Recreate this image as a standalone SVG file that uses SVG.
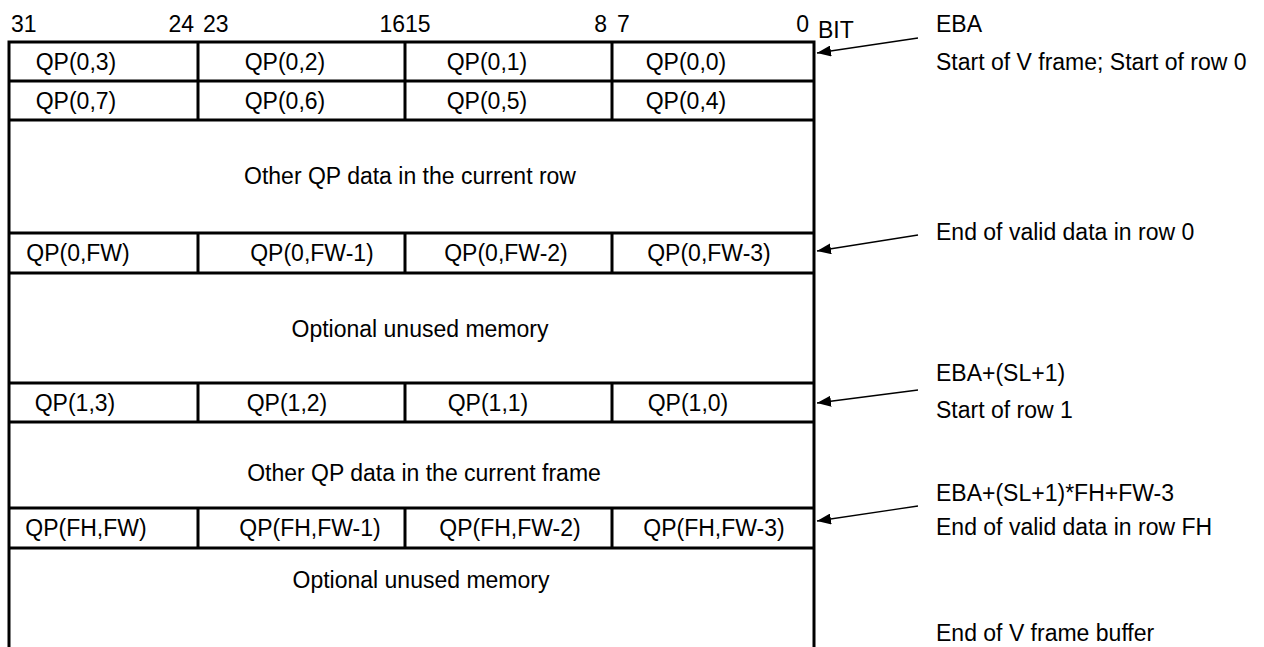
<svg xmlns="http://www.w3.org/2000/svg" width="1264" height="647" viewBox="0 0 1264 647">
<defs>
<marker id="ah" viewBox="0 0 14 11" refX="14" refY="5.5" markerWidth="14" markerHeight="11" markerUnits="userSpaceOnUse" orient="auto">
<path d="M0,0 L14,5.5 L0,11 Z" fill="#000"/>
</marker>
<style>
text{font-family:"Liberation Sans",Arial,Helvetica,sans-serif;font-size:23px;fill:#000}
.c{text-anchor:middle}
.e{text-anchor:end}
.b{fill:none;stroke:#000;stroke-width:3}
.a{fill:none;stroke:#000;stroke-width:1.3;marker-end:url(#ah)}
</style>
</defs>
<rect width="1264" height="647" fill="#fff"/>
<g id="header">
<text x="11" y="32">31</text>
<text class="e" x="194" y="32">24</text>
<text x="203" y="32">23</text>
<text class="e" x="405" y="32">16</text>
<text x="405" y="32">15</text>
<text class="e" x="607" y="32">8</text>
<text x="617" y="32">7</text>
<text class="e" x="809" y="32">0</text>
<text x="818" y="38">BIT</text>
</g>
<g id="frame">
<path class="b" d="M9,647 V42 H814 V647"/>
</g>
<g id="row0">
<path class="b" d="M9,81 H814 M198,42 V120 M405,42 V120 M612,42 V120"/>
<text class="c" x="76" y="70">QP(0,3)</text>
<text class="c" x="285" y="70">QP(0,2)</text>
<text class="c" x="487" y="70">QP(0,1)</text>
<text class="c" x="686" y="70">QP(0,0)</text>
</g>
<g id="row0b">
<path class="b" d="M9,120 H814"/>
<text class="c" x="76" y="109">QP(0,7)</text>
<text class="c" x="285" y="109">QP(0,6)</text>
<text class="c" x="487" y="109">QP(0,5)</text>
<text class="c" x="686" y="109">QP(0,4)</text>
</g>
<g id="other-row">
<text class="c" x="410" y="184">Other QP data in the current row</text>
</g>
<g id="row0-end">
<path class="b" d="M9,233 H814 M9,273 H814 M198,233 V273 M405,233 V273 M612,233 V273"/>
<text class="c" x="78" y="261">QP(0,FW)</text>
<text class="c" x="312" y="261">QP(0,FW-1)</text>
<text class="c" x="506" y="261">QP(0,FW-2)</text>
<text class="c" x="709" y="261">QP(0,FW-3)</text>
</g>
<g id="unused1">
<text class="c" x="420" y="337">Optional unused memory</text>
</g>
<g id="row1">
<path class="b" d="M9,383 H814 M9,422 H814 M198,383 V422 M405,383 V422 M612,383 V422"/>
<text class="c" x="75" y="411">QP(1,3)</text>
<text class="c" x="287" y="411">QP(1,2)</text>
<text class="c" x="488" y="411">QP(1,1)</text>
<text class="c" x="688" y="411">QP(1,0)</text>
</g>
<g id="other-frame">
<text class="c" x="424" y="481">Other QP data in the current frame</text>
</g>
<g id="rowFH">
<path class="b" d="M9,508 H814 M9,548 H814 M198,508 V548 M405,508 V548 M612,508 V548"/>
<text class="c" x="86" y="536">QP(FH,FW)</text>
<text class="c" x="310" y="536">QP(FH,FW-1)</text>
<text class="c" x="510" y="536">QP(FH,FW-2)</text>
<text class="c" x="714" y="536">QP(FH,FW-3)</text>
</g>
<g id="unused2">
<text class="c" x="421" y="588">Optional unused memory</text>
</g>
<g id="labels">
<text x="936" y="32">EBA</text>
<text x="936" y="70">Start of V frame; Start of row 0</text>
<text x="936" y="240">End of valid data in row 0</text>
<text x="936" y="381">EBA+(SL+1)</text>
<text x="936" y="418">Start of row 1</text>
<text x="936" y="501">EBA+(SL+1)*FH+FW-3</text>
<text x="936" y="535">End of valid data in row FH</text>
<text x="936" y="641">End of V frame buffer</text>
</g>
<g id="connectors">
<line class="a" x1="918" y1="38" x2="817" y2="53"/>
<line class="a" x1="918" y1="235" x2="817" y2="251"/>
<line class="a" x1="918" y1="390" x2="817" y2="403"/>
<line class="a" x1="918" y1="506" x2="817" y2="521"/>
</g>
</svg>
